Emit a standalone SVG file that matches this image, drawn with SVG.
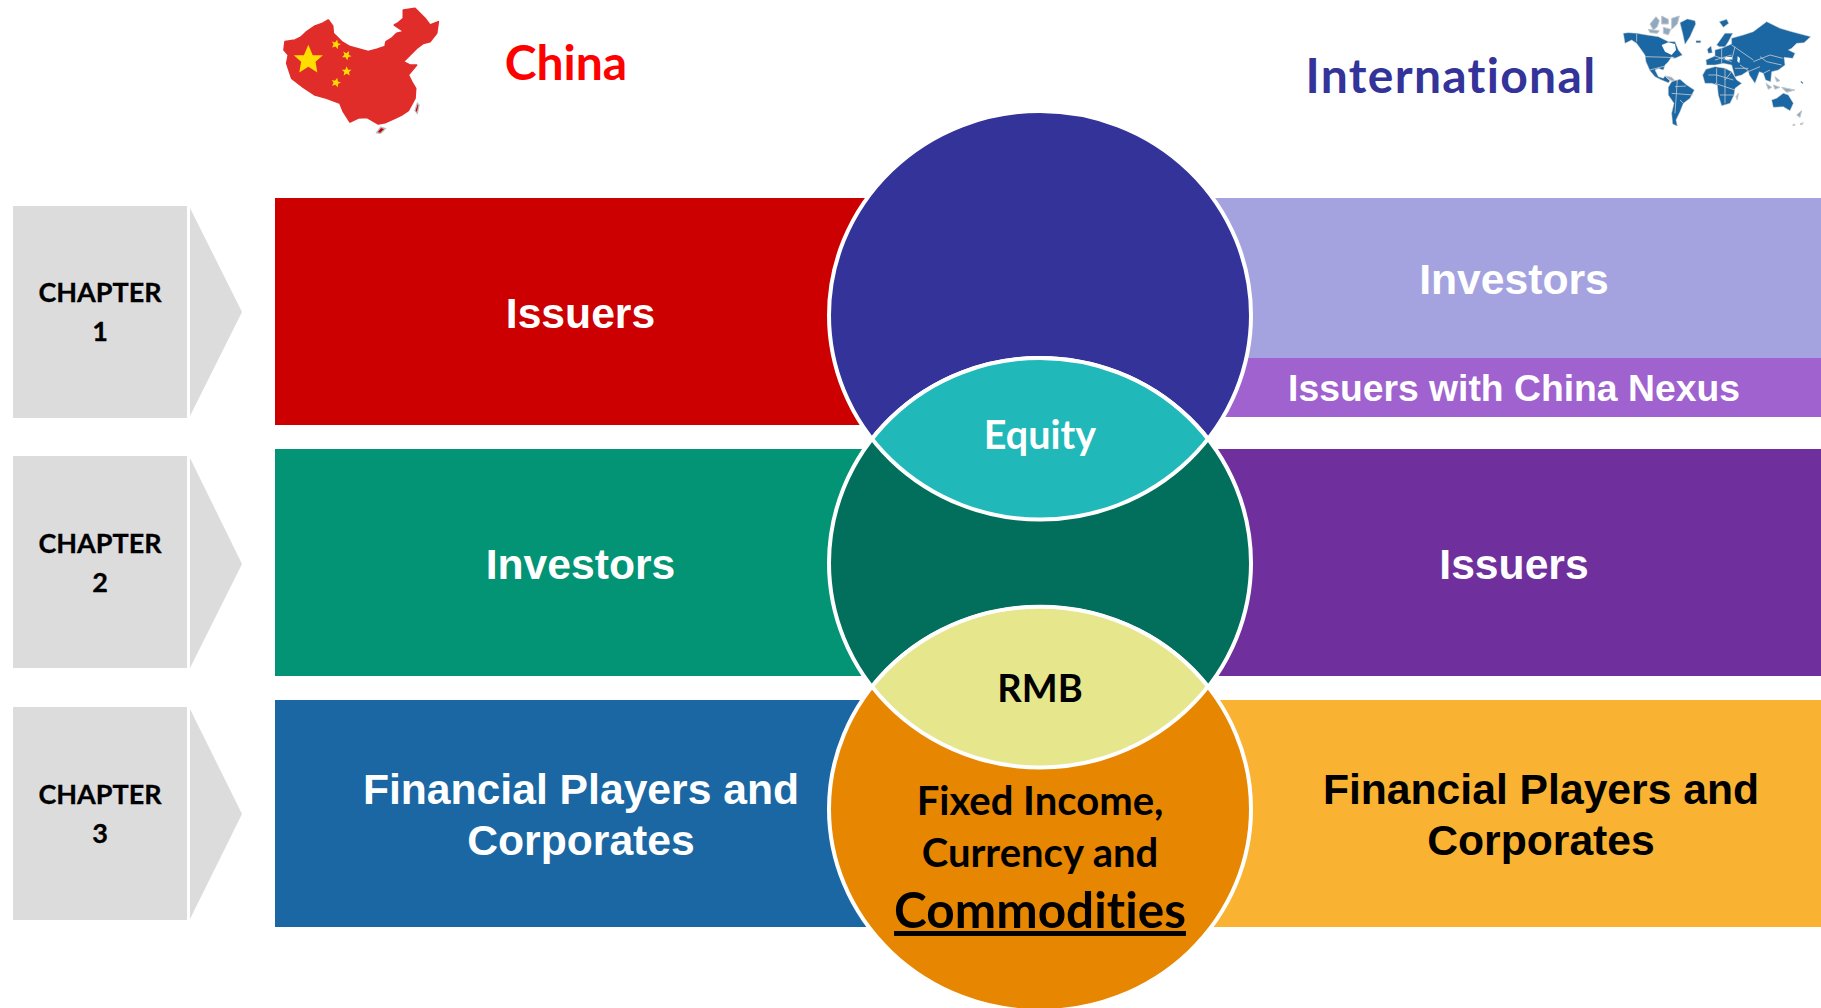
<svg xmlns="http://www.w3.org/2000/svg" width="1821" height="1008" viewBox="0 0 1821 1008">
<style>
.ch{fill:#dcdcdc}
.cht{font:700 27px Lato,"Liberation Sans",sans-serif;fill:#000;text-anchor:middle;stroke:#000;stroke-width:.3}
.big{font:700 42.67px "Liberation Sans",Arial,sans-serif;text-anchor:middle}
.cal{font-family:Lato,"Liberation Sans",sans-serif;font-weight:700;text-anchor:middle;font-variant-ligatures:none}
.w{fill:#fff}.k{fill:#000}
.v{stroke:#fff;stroke-width:4}
.st{fill:#ffdd00}
.map{fill:#1a67a3;stroke:#c4c8cc;stroke-width:1.5;stroke-linejoin:round}
.isl{fill:#8fa9bf;stroke:#c4c8cc;stroke-width:3;stroke-linejoin:round}
.ln{fill:none;stroke:#c4c8cc;stroke-width:2.5}
</style>
<defs>
<polygon id="star" points="0,-10 2.9,-3.1 9.5,-3.1 4.7,1.2 5.9,8.1 0,4.4 -5.9,8.1 -4.7,1.2 -9.5,-3.1 -2.9,-3.1"/>
<clipPath id="c1"><ellipse cx="1040" cy="315.3" rx="211" ry="204.3"/></clipPath>
<clipPath id="c2"><ellipse cx="1040" cy="563" rx="211" ry="205"/></clipPath>
</defs>
<rect width="1821" height="1008" fill="#fff"/>
<g id="map-china" transform="translate(260 0) scale(.3333)">
<path fill="#e12d2a" stroke="#e12d2a" stroke-width="5" stroke-linejoin="round" d="M75 125L105 120 122 112 140 95 165 78 188 70 205 60 218 78 220 100 245 125 270 140 300 148 325 155 350 148 375 140 378 125 395 115 410 100 432 95 403 75 415 68 430 55 430 30 465 25 480 40 495 55 510 75 535 65 530 100 510 125 490 130 470 145 455 160 430 185 450 195 470 195 445 225 455 245 467 265 465 295 445 332 425 345 405 355 375 368 355 372 320 352 295 354 270 366 250 335 240 310 200 295 165 285 130 262 95 235 80 190 85 165 72 150Z"/>
<path fill="#c8000a" stroke="#bbb" stroke-width="4" d="M465 332L472 310 477 315 472 340ZM350 398L362 382 376 386 362 400Z"/>
<use href="#star" class="st" transform="translate(145 180) scale(4.6)"/>
<use href="#star" class="st" transform="translate(228 133) scale(1.5) rotate(15)"/>
<use href="#star" class="st" transform="translate(260 166) scale(1.5) rotate(30)"/>
<use href="#star" class="st" transform="translate(260 214) scale(1.5)"/>
<use href="#star" class="st" transform="translate(228 248) scale(1.5) rotate(15)"/>
</g>
<g id="map-world" transform="translate(1600 0) scale(.3333)">
<path class="isl" d="M150 72L168 50 178 62 172 80 160 90ZM185 48L205 58 205 72 185 72ZM215 55L238 48 232 72 215 88ZM145 88L178 92 172 100 150 98ZM190 82L212 88 205 105 190 100Z"/>
<path class="map" d="M70 100L85 98 110 100 140 105 175 110 195 120 205 125 225 125 235 150 247 165 225 175 215 170 205 185 195 195 190 210 175 205 165 210 175 230 190 235 195 228 210 243 205 248 185 240 165 230 150 212 138 185 135 165 110 130 95 120 75 130Z"/>
<path fill="#fff" d="M185 135L205 127 225 132 228 150 215 165 195 155Z"/>
<path class="map" d="M240 68L262 57 285 62 287 72 270 110 255 133 248 100Z"/>
<path class="isl" d="M195 228L215 232 228 245 210 240ZM225 248L240 250 240 255 225 253Z"/>
<path class="map" d="M205 262L215 245 240 238 260 255 283 270 270 295 250 310 240 335 228 360 232 378 218 372 215 340 222 310 205 285Z"/>
<path class="map" d="M308 225L318 208 345 200 375 205 395 215 410 240 425 250 405 265 402 285 390 310 365 317 355 285 352 255 335 250 315 250Z"/>
<path class="map" d="M320 195L318 180 345 168 345 150 365 145 395 132 395 115 430 105 460 95 500 65 540 85 575 95 632 110 612 128 590 130 575 145 565 150 585 160 578 175 552 172 555 195 535 210 515 215 512 245 497 240 490 220 478 215 465 250 448 225 445 212 425 225 405 230 395 195 370 190 345 195Z"/>
<path class="map" d="M350 135L375 100 398 100 385 125 375 140 358 140ZM322 148L333 138 337 158 325 160ZM358 65L380 58 386 70 370 82ZM288 122H302V128H288Z"/>
<path fill="#fff" d="M372 172L395 170 398 178 378 180ZM413 168L420 175 418 190 412 184Z"/>
<path class="map" d="M515 300L530 295 550 280 565 285 580 310 570 332 550 320 520 322Z"/>
<path class="isl" d="M498 250L515 262 505 268ZM520 255L540 262 525 268ZM545 262L585 270 560 277ZM525 230L540 242 530 245ZM590 345L605 332 600 352ZM578 375L585 372 582 378ZM600 372L610 368 605 375ZM408 290L415 280 412 300Z"/>
<path class="ln" d="M135 170L205 172 225 175M110 102V125M150 210L195 198M460 185L510 165 548 175M480 170L500 185 545 195M350 225L400 240M375 205V310M345 250L405 270M360 285L402 285M325 225L350 225M350 205V250M395 215L375 240M232 240L225 340M215 280L280 285M240 300L250 310M225 260L258 258M405 140L395 180M445 215L480 200M395 135L460 180M345 168L395 185M365 145L365 190M345 180L395 165M420 195L445 212M405 205L445 205M490 220L510 210"/>
<path fill="#1a67a3" d="M603 243L610 249 608 251 602 246Z"/>
</g>
<g id="chapter-1"><rect class="ch" x="13" y="206" width="174" height="212"/><polygon class="ch" points="190,208 242,312 190,416"/><text class="cht" x="100" y="302">CHAPTER</text><text class="cht" x="100" y="341">1</text></g>
<g id="chapter-2"><rect class="ch" x="13" y="456" width="174" height="212"/><polygon class="ch" points="190,458 242,564 190,668"/><text class="cht" x="100" y="553">CHAPTER</text><text class="cht" x="100" y="592">2</text></g>
<g id="chapter-3"><rect class="ch" x="13" y="707" width="174" height="213"/><polygon class="ch" points="190,709 242,814 190,919"/><text class="cht" x="100" y="804">CHAPTER</text><text class="cht" x="100" y="843">3</text></g>
<g id="box-cn-issuers"><rect x="275" y="198" width="620" height="227" fill="#cc0000"/></g>
<g id="box-cn-investors"><rect x="275" y="449" width="620" height="227" fill="#029474"/></g>
<g id="box-cn-fin"><rect x="275" y="700" width="620" height="227" fill="#1a67a3"/></g>
<g id="box-int-investors"><rect x="1190" y="198" width="631" height="160" fill="#a4a3df"/></g>
<g id="box-int-nexus"><rect x="1190" y="358" width="631" height="59" fill="#a062cf"/></g>
<g id="box-int-issuers"><rect x="1190" y="449" width="631" height="227" fill="#6f2f9d"/></g>
<g id="box-int-fin"><rect x="1190" y="700" width="631" height="227" fill="#f9b231"/></g>
<g id="circle-1"><ellipse class="v" cx="1040" cy="315.3" rx="211" ry="204.3" fill="#333399"/></g>
<g id="circle-2"><ellipse class="v" cx="1040" cy="563" rx="211" ry="205" fill="#026f5c"/></g>
<g id="circle-3"><ellipse class="v" cx="1040" cy="809" rx="211" ry="202" fill="#e78600"/></g>
<g id="lens-equity"><ellipse class="v" cx="1040" cy="563" rx="211" ry="205" fill="#20b8b9" clip-path="url(#c1)"/><ellipse cx="1040" cy="315.3" rx="211" ry="204.3" fill="none" class="v" clip-path="url(#c2)"/></g>
<g id="lens-rmb"><path class="v" fill="#e6e68d" d="M872 686.5A211 202 0 0 1 1208 686.5A211 205 0 0 1 872 686.5Z"/></g>
<g id="connectors"></g>
<g id="labels">
<text class="cal" x="566" y="80" font-size="48" fill="#ff0000">China</text>
<text class="cal" x="1451" y="93" font-size="48" fill="#333399" letter-spacing="1.3">International</text>
<text class="big w" x="580.5" y="328">Issuers</text>
<text class="big w" x="580.5" y="579">Investors</text>
<text class="big w" x="581" y="804">Financial Players and</text>
<text class="big w" x="581" y="855">Corporates</text>
<text class="big w" x="1514" y="294">Investors</text>
<text class="w" x="1514" y="401" text-anchor="middle" font-family="Liberation Sans, Arial, sans-serif" font-weight="700" font-size="37.3">Issuers with China Nexus</text>
<text class="big w" x="1514" y="579">Issuers</text>
<text class="big k" x="1541" y="804">Financial Players and</text>
<text class="big k" x="1541" y="855">Corporates</text>
<text class="cal w" x="1040" y="449" font-size="39.5">Equity</text>
<text class="cal k" x="1040" y="702" font-size="38">RMB</text>
<text class="cal k" x="1040" y="815" font-size="40">Fixed Income,</text>
<text class="cal k" x="1040" y="867" font-size="40">Currency and</text>
<text class="cal k" x="1040" y="928" font-size="49.5" text-decoration="underline">Commodities</text>
</g>
</svg>
